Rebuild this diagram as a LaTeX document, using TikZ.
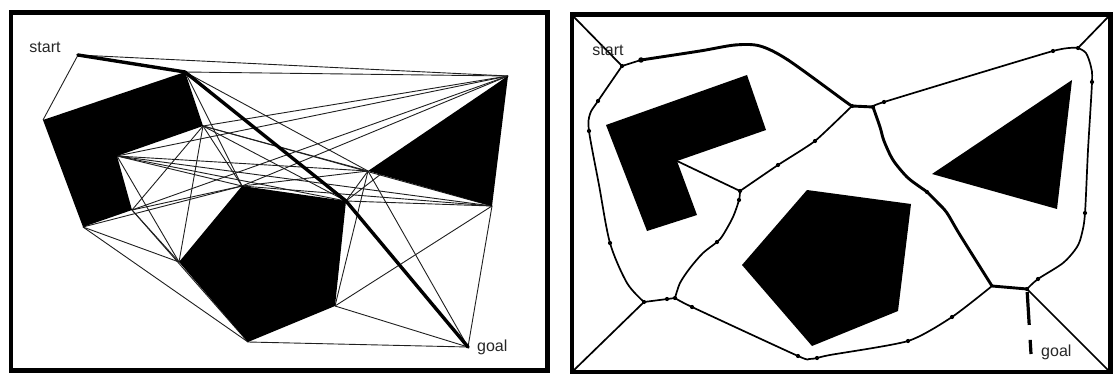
\documentclass[tikz,border=0pt]{standalone}
\usepackage{fontspec}
\setmainfont{Liberation Sans}
\begin{document}
\begin{tikzpicture}[x=1pt,y=-1pt,
  frame/.style={line width=4.5pt},
  obst/.style={fill=black},
  vis/.style={line width=0.9pt, draw=black!88},
  best/.style={line width=3.4pt, line cap=round, line join=round},
  vor/.style={line width=1.7pt, line join=round},
  vorbold/.style={line width=2.9pt, line join=round, line cap=round},
  vdot/.style={circle, fill=black, inner sep=0pt, minimum size=4.2pt},
  sdot/.style={circle, fill=black, inner sep=0pt, minimum size=3pt},
  lbl/.style={font=\fontsize{16}{18}\selectfont, text=black!85, inner sep=0pt},
  goaldash/.style={line width=3.2pt, dash pattern=on 33pt off 15pt, shorten <=3pt}
]
\useasboundingbox (0,0) rectangle (1115,374);

% ---------------- left panel: visibility graph ----------------
\coordinate (S) at (78,55);
\coordinate (G) at (468,347);
\coordinate (A1) at (43,120);
\coordinate (A2) at (185,72);
\coordinate (A3) at (203,126);
\coordinate (A4) at (117,156);
\coordinate (A5) at (132,210);
\coordinate (A6) at (83,227);
\coordinate (B1) at (242,186);
\coordinate (B2) at (346,201);
\coordinate (B3) at (335,306);
\coordinate (B4) at (248,342);
\coordinate (B5) at (179,262);
\coordinate (C1) at (508,76);
\coordinate (C2) at (368,171);
\coordinate (C3) at (492,206);

\foreach \a/\b in {S/A1,S/C1,
  A2/C1,A2/C2,A2/B1,
  A3/C1,A3/C2,A3/C3,A3/B1,A3/B2,A3/B5,A3/A5,
  A4/C1,A4/C2,A4/C3,A4/B1,A4/B2,A4/B5,
  A5/C1,A5/B1,A5/B5,A5/B4,
  A6/B5,A6/B4,A6/B1,
  B1/C1,B1/C2,B1/C3,
  B2/C1,B2/C2,B2/C3,
  B3/C3,B3/C2,B3/G,
  B4/G,C2/G,C3/G}
  \draw[vis] (\a) -- (\b);

\draw[best] (S) -- (A2) -- (B2) -- (G);

\fill[obst] (A1) -- (A2) -- (A3) -- (A4) -- (A5) -- (A6) -- cycle;
\fill[obst] (B1) -- (B2) -- (B3) -- (B4) -- (B5) -- cycle;
\fill[obst] (C1) -- (C2) -- (C3) -- cycle;

\node[sdot] (sd) at (S) {};
\node[sdot] (gd) at (G) {};
\node[lbl] (ls) at (45,47) {start};
\node[lbl, anchor=west] (lg) at (477,347) {goal};

\draw[frame] (11,12.3) rectangle (547.5,370.5);

% ---------------- right panel: Voronoi roadmap ----------------
\coordinate (Q1) at (606,125);
\coordinate (Q2) at (747,75);
\coordinate (Q3) at (766,130);
\coordinate (Q4) at (677,161);
\coordinate (Q5) at (697,215);
\coordinate (Q6) at (647,231);
\coordinate (P1) at (807,190);
\coordinate (P2) at (911,204);
\coordinate (P3) at (898,311);
\coordinate (P4) at (812,346);
\coordinate (P5) at (742,265);
\coordinate (T1) at (1072,80);
\coordinate (T2) at (932,174);
\coordinate (T3) at (1057,209);

\fill[obst] (Q1) -- (Q2) -- (Q3) -- (Q4) -- (Q5) -- (Q6) -- cycle;
\fill[obst] (P1) -- (P2) -- (P3) -- (P4) -- (P5) -- cycle;
\fill[obst] (T1) -- (T2) -- (T3) -- cycle;

\coordinate (cTL) at (572,15);
\coordinate (cTR) at (1110,15);
\coordinate (cBL) at (572,372);
\coordinate (cBR) at (1110,372);
\coordinate (J1) at (622,66);
\coordinate (J2) at (1078,48);
\coordinate (J3) at (644,302);
\coordinate (J4) at (1027,289);
\coordinate (K1) at (852,106);
\coordinate (K2) at (873,107);
\coordinate (J6) at (740,191);
\coordinate (J7) at (675,298);
\coordinate (J8) at (992,286);
\coordinate (S2) at (641,60);
\coordinate (G2) at (1031,354);

% corner spokes
\draw[vor] (cTL) -- (J1);
\draw[vor] (cTR) -- (J2);
\draw[vor] (cBL) -- (J3);
\draw[vor] (cBR) -- (J4);

% thin edges
\draw[vor] (J1) -- (S2);
\draw[vor] plot[smooth, tension=0.5] coordinates {(J3) (627,283) (610,243) (599,185) (589,131) (590,114) (598,101) (J1)};
\draw[vor] (J3) -- (J7);
\draw[vor] plot[smooth, tension=0.5] coordinates {(J6) (739,200) (733,217) (723,235) (717,242) (703,253) (690,268) (680,283) (J7)};
\draw[vor] (Q4) -- (J6);
\draw[vor] plot[smooth, tension=0.3] coordinates {(K1) (815,141) (778,165) (J6)};
\draw[vor] plot[smooth, tension=0.4] coordinates {(J7) (692,307) (798,356) (809,359) (817,358) (830,355) (908,341) (952,317) (J8)};
\draw[vor] plot[smooth, tension=0.3] coordinates {(K2) (884,102) (1053,51) (J2)};
\draw[vor] plot[smooth, tension=0.5] coordinates {(J2) (1086,53) (1091,67) (1092,82) (1088,150) (1085,213) (1082,233) (1077,247) (1063,263) (1038,279) (J4)};

% bold route
\draw[vorbold] plot[smooth, tension=0.5] coordinates {(S2) (700,51) (735,45) (760,46) (788,60) (846,102) (K1)};
\draw[vorbold] (K1) -- (K2);
\draw[vorbold] plot[smooth, tension=0.5] coordinates {(K2) (880,127) (884,141) (893,160) (907,177) (920,187) (927,192) (938,203) (947,213) (960,235) (J8)};
\draw[vorbold] (J8) -- (J4);
\draw[goaldash] (J4) -- (G2);

% dots on the roadmap
\foreach \p in {(622,66),(598,101),(589,131),(610,243),(644,302),(667,299),(675,298),(692,307),
  (798,356),(817,358),(908,341),(952,317),(1027,289),(1038,279),(1085,213),(1092,82),
  (1078,48),(1053,51),(884,102),(852,106),(873,107),(815,141),(778,165),(740,191),(739,200),(717,242),(927,192)}
  \node[vdot] at \p {};
\node[vdot, minimum size=5.5pt] (sd2) at (S2) {};
\node[sdot] at (735,45) {};
\node[sdot] at (788,60) {};

\node[lbl] (rs) at (608,50) {start};
\node[lbl, anchor=west] (rg) at (1041,352) {goal};

\draw[frame] (572,14.5) rectangle (1110.5,372.5);
\end{tikzpicture}
\end{document}
